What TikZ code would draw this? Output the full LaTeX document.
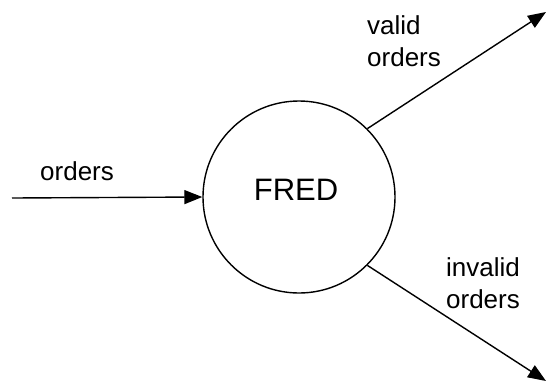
\documentclass[tikz,border=0pt]{standalone}
\usepackage{fontspec}
\setmainfont{Liberation Sans}
\usetikzlibrary{arrows.meta}
\begin{document}
\begin{tikzpicture}[x=1pt,y=-1pt,
  flow/.style={line width=1.4pt,-{Triangle[length=18pt,width=14pt]}},
  proc/.style={circle,draw,line width=1.4pt,minimum size=192pt,inner sep=0pt},
  lbl/.style={inner sep=0pt,font=\fontsize{26}{32}\selectfont}]
\useasboundingbox (0,0) rectangle (548,389);
\node[proc] (fred) at (299,197) {};
\node[inner sep=0pt,font=\fontsize{31}{36}\selectfont] (fredtext) at (296,190) {FRED};
\coordinate (src) at (12,198);
\coordinate (vo) at (546,12);
\coordinate (io) at (546,381);
\draw[flow] (src) -- (fred.west);
\draw[flow] (fred.45) -- (vo);
\draw[flow] (fred.-45) -- (io);
\node[lbl,anchor=base west] (lin) at (40,180) {orders};
\node[lbl,anchor=north west,align=left] (lvalid) at (367,15) {valid\\orders};
\node[lbl,anchor=north,align=center] (linvalid) at (483,257) {invalid\\orders};
\end{tikzpicture}
\end{document}
